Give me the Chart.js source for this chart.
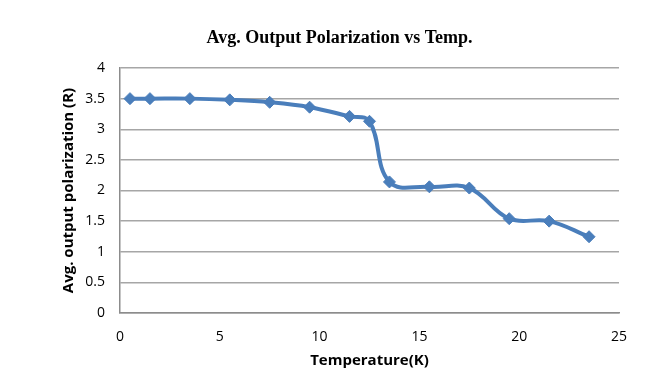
<!DOCTYPE html>
<html>
<head>
<meta charset="utf-8">
<script src="https://cdn.jsdelivr.net/npm/chart.js@4"></script>
<style>
  html, body { margin: 0; padding: 0; background: #fff; }
  canvas { display: block; }
</style>
</head>
<body>
<canvas id="polChart" width="657" height="392"></canvas>
<script>
const temperatures = [0.5, 1.5, 3.5, 5.5, 7.5, 9.5, 11.5, 12.5, 13.5, 15.5, 17.5, 19.5, 21.5, 23.5];
const polarization = [3.5, 3.5, 3.5, 3.48, 3.44, 3.36, 3.21, 3.13, 2.14, 2.06, 2.04, 1.54, 1.5, 1.245];

const points = temperatures.map((t, i) => ({ x: t, y: polarization[i] }));

const blue = "#4a7ebb";
const gridGray = "#a6a6a6";
const axisGray = "#8c8c8c";
const tickFont = { family: "Open Sans", size: 14 };

new Chart(document.getElementById("polChart"), {
  type: "line",
  data: {
    datasets: [{
      label: "Avg. output polarization",
      data: points,
      borderColor: blue,
      backgroundColor: blue,
      borderWidth: 4,
      tension: 0.4,
      pointStyle: "rectRot",
      pointRadius: 6,
      pointBorderWidth: 1,
      pointBackgroundColor: blue,
      pointBorderColor: blue
    }]
  },
  options: {
    responsive: false,
    animation: false,
    layout: { padding: { left: 60, right: 38, top: 0, bottom: 0 } },
    plugins: {
      legend: { display: false },
      tooltip: { enabled: false },
      title: {
        display: true,
        text: "Avg. Output Polarization vs Temp.",
        color: "#000",
        font: { family: "Liberation Serif", size: 18, weight: "bold" },
        padding: { top: 28, bottom: 18.4 }
      }
    },
    scales: {
      x: {
        type: "linear",
        min: 0,
        max: 25,
        ticks: { stepSize: 5, color: "#000", font: tickFont, padding: 16, maxRotation: 0 },
        grid: { display: false, drawTicks: false },
        border: { display: true, color: axisGray, width: 1.5 },
        title: {
          display: true,
          text: "Temperature(K)",
          color: "#000",
          font: { family: "Open Sans", size: 15, weight: "bold" },
          padding: { top: 0, bottom: 22 }
        },
        afterFit(scale) { scale.height = 79; }
      },
      y: {
        min: 0,
        max: 4,
        ticks: {
          stepSize: 0.5, color: "#000", font: tickFont, padding: 15,
          callback: (value) => String(value)
        },
        grid: { color: gridGray, lineWidth: 1.5, drawTicks: false },
        border: { display: true, color: axisGray, width: 1.5 },
        title: {
          display: true,
          text: "Avg. output polarization (R)",
          color: "#000",
          font: { family: "Open Sans", size: 15, weight: "bold" },
          padding: { top: 0, bottom: 0 }
        },
        afterFit(scale) { scale.width = 60; }
      }
    }
  }
});
</script>
</body>
</html>
